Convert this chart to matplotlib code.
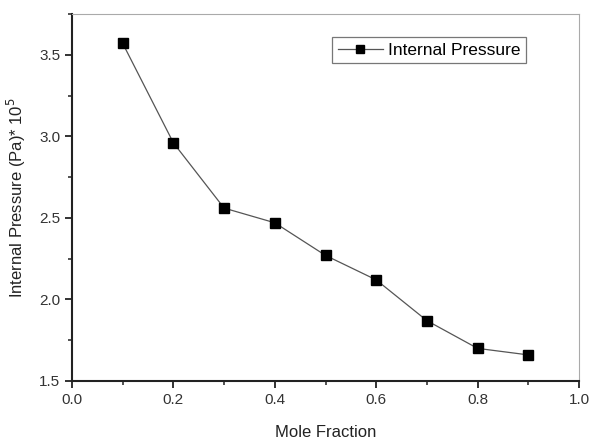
import matplotlib
matplotlib.use("Agg")
import matplotlib.pyplot as plt
from matplotlib.ticker import MultipleLocator

plt.rcParams['font.family'] = ['Liberation Sans', 'DejaVu Sans']

mole_fraction = [0.1, 0.2, 0.3, 0.4, 0.5, 0.6, 0.7, 0.8, 0.9]
internal_pressure = [3.57, 2.96, 2.56, 2.47, 2.27, 2.12, 1.87, 1.70, 1.66]

fig = plt.figure(figsize=(5.89, 4.45), dpi=100)
ax = fig.add_axes([72 / 589, 1 - 381 / 445, (579 - 72) / 589, (381 - 14) / 445])

ax.plot(mole_fraction, internal_pressure, color='#555555', lw=0.9,
        marker='s', markersize=7, markerfacecolor='black',
        markeredgecolor='black', label='Internal Pressure')

ax.set_xlim(0, 1.0)
ax.set_ylim(1.5, 3.75)
ax.xaxis.set_major_locator(MultipleLocator(0.2))
ax.xaxis.set_minor_locator(MultipleLocator(0.1))
ax.yaxis.set_major_locator(MultipleLocator(0.5))
ax.yaxis.set_minor_locator(MultipleLocator(0.25))

for s in ['left', 'bottom']:
    ax.spines[s].set_linewidth(1.5)
    ax.spines[s].set_color('#222222')
for s in ['top', 'right']:
    ax.spines[s].set_linewidth(0.8)
    ax.spines[s].set_color('#aaaaaa')

ax.tick_params(which='major', direction='out', length=5, width=1.3,
               labelsize=11, colors='#222222', labelcolor='#333333')
ax.tick_params(which='minor', direction='out', length=3, width=1.1,
               colors='#222222')

ax.set_xlabel('Mole Fraction', fontsize=12, color='#222222', labelpad=13)
ax.set_ylabel('Internal Pressure (Pa)* 10$^5$', fontsize=12,
              color='#222222', labelpad=8)

leg = ax.legend(loc='upper right', bbox_to_anchor=(0.912, 0.96),
                fontsize=12.5, frameon=True, fancybox=False,
                handlelength=2.6, borderpad=0.3, handletextpad=0.3,
                markerscale=0.75)
leg.get_frame().set_edgecolor('#555555')
leg.get_frame().set_linewidth(0.9)

fig.savefig('out.png', dpi=100)
